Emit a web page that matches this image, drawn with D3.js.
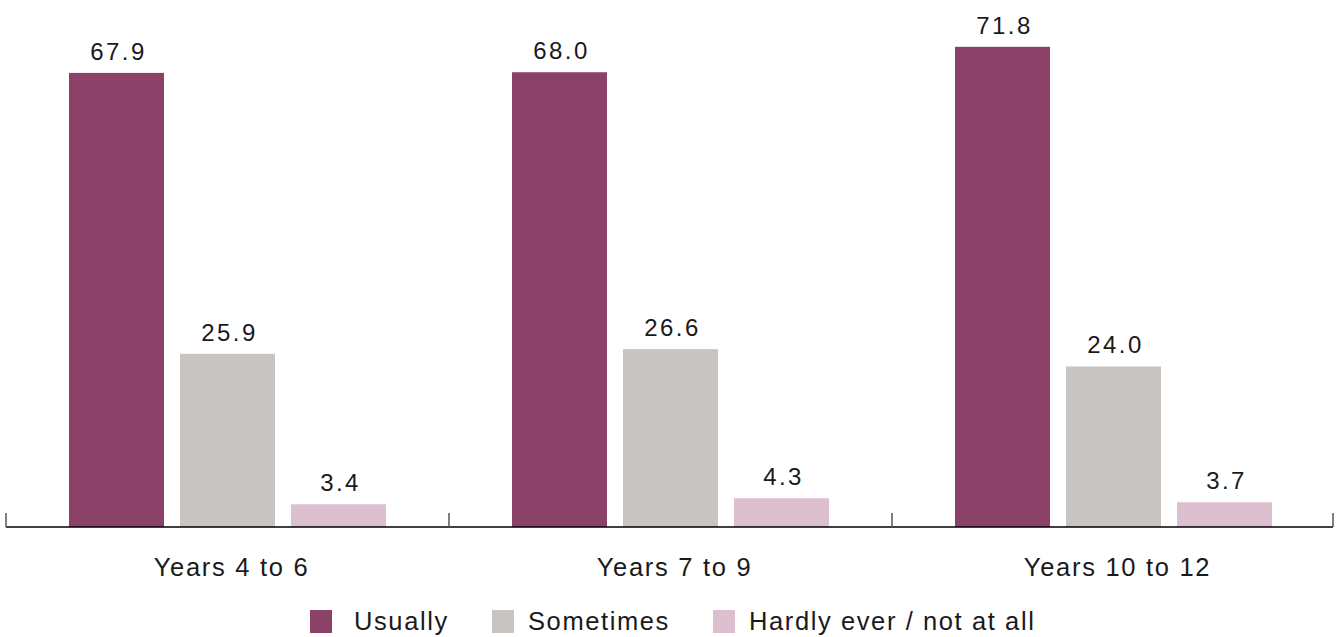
<!DOCTYPE html>
<html><head><meta charset="utf-8">
<script src="https://cdn.jsdelivr.net/npm/d3@7"></script>
<style>body{margin:0;background:#fff}svg{display:block}text{font-family:"Liberation Sans",Arial,sans-serif;fill:#1a1a1a}</style>
</head><body><svg id="c" width="1343" height="637"></svg>
<script>
const categories = ["Years 4 to 6", "Years 7 to 9", "Years 10 to 12"];
const seriesNames = ["Usually", "Sometimes", "Hardly ever / not at all"];
const usually = [67.9, 68.0, 71.8];
const sometimes = [25.9, 26.6, 24.0];
const hardly = [3.4, 4.3, 3.7];
const colors = ["#8c4169", "#c8c4c1", "#dcc0d0"];
const values = [usually, sometimes, hardly];

const svg = d3.select("#c");
const x0 = d3.scaleBand().domain(categories).range([6, 1335]).padding(0);
const x1 = d3.scaleBand().domain(seriesNames).range([63, 380]).paddingInner(16/111).paddingOuter(0);
const y = d3.scaleLinear().domain([0, 78.8]).range([527, 0]);

const g = svg.append("g");
categories.forEach((cat, i) => {
  const gx = x0(cat);
  seriesNames.forEach((s, j) => {
    const v = values[j][i];
    g.append("rect").attr("x", gx + x1(s)).attr("y", y(v))
      .attr("width", x1.bandwidth()).attr("height", y(0) - y(v)).attr("fill", colors[j]);
    g.append("text").attr("x", gx + x1(s) + x1.bandwidth()/2 + 2).attr("y", y(v) - 13)
      .attr("text-anchor", "middle").attr("font-size", 24).attr("letter-spacing", "2.4px")
      .text(v.toFixed(1));
  });
});

// axis
const axis = d3.axisBottom(x0).tickSize(0).tickPadding(0).tickFormat("");
const ax = svg.append("g").attr("transform", "translate(0,527)").call(axis);
ax.select(".domain").attr("stroke", "#000").attr("stroke-width", 1.5).attr("d", "M6,0H1333");
const bounds = [6].concat(categories.map(c => Math.min(1333, x0(c) + x0.bandwidth())));
ax.selectAll(".sep").data(bounds).enter().append("line").attr("class","sep")
  .attr("x1", d => d).attr("x2", d => d).attr("y1", -14).attr("y2", 0)
  .attr("stroke", "#555").attr("stroke-width", 1.5);
ax.selectAll(".cl").data(categories).enter().append("text").attr("class","cl")
  .attr("x", d => x0(d) + x0.bandwidth()/2 + 4).attr("y", 49)
  .attr("text-anchor", "middle").attr("font-size", 25.5).attr("letter-spacing", "1.7px").text(d => d);

// legend
const legX = [310, 492, 713];
const legTextOff = [44, 36, 36];
const leg = svg.append("g");
seriesNames.forEach((s, j) => {
  leg.append("rect").attr("x", legX[j]).attr("y", 610).attr("width", 22).attr("height", 23).attr("fill", colors[j]);
  leg.append("text").attr("x", legX[j] + legTextOff[j]).attr("y", 630).attr("font-size", 25.5).attr("letter-spacing", "1.6px").text(s);
});
</script></body></html>
